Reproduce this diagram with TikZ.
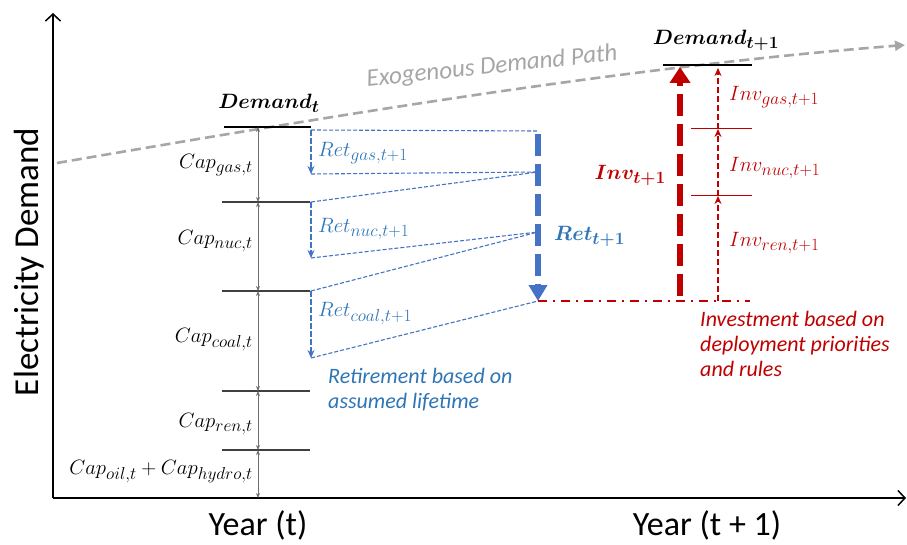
\documentclass[tikz,border=0pt]{standalone}
\usepackage{amsmath}
\usepackage{bm}
\usepackage{fontspec}
\setmainfont{Carlito}
\usetikzlibrary{arrows.meta}
\usetikzlibrary{positioning}
\DeclareMathSizes{21}{21}{16}{12}
\definecolor{retblue}{RGB}{68,114,196}
\definecolor{rettext}{RGB}{46,117,182}
\definecolor{invred}{RGB}{192,0,0}
\definecolor{pathgray}{RGB}{166,166,166}
\definecolor{capgray}{RGB}{110,110,110}
\tikzset{axis/.style = {line width=1.8pt, -{Straight Barb[length=7pt,width=15pt,line width=1.5pt]}}}
\tikzset{level/.style = {line width=1.3pt, black!75}}
\tikzset{demandline/.style = {line width=2.6pt}}
\tikzset{caparrow/.style = {{Stealth[length=5pt,width=4pt]}-{Stealth[length=5pt,width=4pt]}, capgray, line width=0.8pt}}
\tikzset{retthin/.style = {retblue, line width=1.1pt, dash pattern=on 4pt off 2pt}}
\tikzset{retarrow/.style = {retthin, line width=1.7pt, dash pattern=on 6pt off 2pt, -{Stealth[length=8pt,width=7pt]}}}
\tikzset{rettotal/.style = {retblue, line width=5.5pt, dash pattern=on 22pt off 8pt, -{Triangle[length=16pt,width=18pt]}}}
\tikzset{invtotal/.style = {invred, line width=6.5pt, dash pattern=on 22pt off 8pt, -{Triangle[length=16pt,width=20pt]}}}
\tikzset{invarrow/.style = {invred, line width=1.7pt, dash pattern=on 6pt off 3pt, -{Stealth[length=8pt,width=7pt]}}}
\tikzset{invlevel/.style = {invred, line width=1pt}}
\tikzset{mathlab/.style = {font=\fontsize{21}{24}\selectfont, inner sep=1pt}}
\tikzset{note/.style = {font=\fontsize{22}{25}\selectfont\itshape, align=left, inner sep=0pt}}

\begin{document}
\begin{tikzpicture}[x=1pt, y=-1pt]
    \useasboundingbox (0,0) rectangle (907,545);

    % axes
    \coordinate (origin) at (53,498);
    \draw [axis] (origin) -- (53,13);
    \draw [axis] (origin) -- (906,498);
    \node [rotate=90, font=\fontsize{35}{40}\selectfont] (ylab) at (29,262) {Electricity Demand};
    \node [font=\fontsize{34}{40}\selectfont] (yeart) at (258,525) {Year (t)};
    \node [font=\fontsize{34}{40}\selectfont] (yeartt) at (707,525) {Year (t + 1)};

    % exogenous demand path
    \draw [pathgray, line width=2.6pt, dash pattern=on 10pt off 5pt, -{Triangle[length=10pt,width=10pt]}]
        (57,163) .. controls (337,115) and (625,67) .. (905,45);
    \node [pathgray, rotate=6, font=\fontsize{25}{28}\selectfont\itshape] (exo) at (492,67) {Exogenous Demand Path};

    % capacity stack at t
    \coordinate (c0) at (258,127);
    \coordinate (c1) at (258,202);
    \coordinate (c2) at (258,291);
    \coordinate (c3) at (258,391);
    \coordinate (c4) at (258,450);
    \coordinate (c5) at (258,498);
    \draw [demandline] (224,127) -- (311,127);
    \foreach \y in {202,291,391,450}
        \draw [level] (222,\y) -- (310,\y);
    \draw [caparrow] (c0) -- (c1);
    \draw [caparrow] (c1) -- (c2);
    \draw [caparrow] (c2) -- (c3);
    \draw [caparrow] (c3) -- (c4);
    \draw [caparrow] (c4) -- (c5);
    \node [mathlab] (demt) at (269,103) {$\bm{Demand_t}$};
    \node [mathlab, anchor=east] (capgas) at (254,165) {$Cap_{gas,t}$};
    \node [mathlab, anchor=east] (capnuc) at (254,241) {$Cap_{nuc,t}$};
    \node [mathlab, anchor=east] (capcoal) at (254,340) {$Cap_{coal,t}$};
    \node [mathlab, anchor=east] (capren) at (254,424) {$Cap_{ren,t}$};
    \node [mathlab, anchor=east] (capoil) at (254,472) {$Cap_{oil,t}+Cap_{hydro,t}$};

    % retirements
    \coordinate (g0) at (311,130);
    \coordinate (g1) at (311,174);
    \coordinate (n0) at (311,202);
    \coordinate (n1) at (311,258);
    \coordinate (k0) at (311,291);
    \coordinate (k1) at (311,358);
    \coordinate (b0) at (538,131);
    \coordinate (b1) at (538,172);
    \coordinate (b2) at (538,232);
    \coordinate (b3) at (538,301);
    \draw [retarrow] (g0) -- (g1);
    \draw [retarrow] (n0) -- (n1);
    \draw [retarrow] (k0) -- (k1);
    \draw [retthin] (g0) -- (b0);
    \draw [retthin] (g1) -- (b1);
    \draw [retthin] (n0) -- (b1);
    \draw [retthin] (n1) -- (b2);
    \draw [retthin] (k0) -- (b2);
    \draw [retthin] (k1) -- (b3);
    \draw [rettotal] (538,134) -- (b3);
    \node [mathlab, rettext, anchor=west] (retgas) at (317,153) {$Ret_{gas,t+1}$};
    \node [mathlab, rettext, anchor=west] (retnuc) at (317,229) {$Ret_{nuc,t+1}$};
    \node [mathlab, rettext, anchor=west] (retcoal) at (317,314) {$Ret_{coal,t+1}$};
    \node [mathlab, rettext, anchor=west] (rettot) at (553,236) {$\bm{Ret_{t+1}}$};
    \node [note, rettext, anchor=north west] (retnote) at (328,368) {Retirement based on\\assumed lifetime};

    % investments
    \coordinate (d0) at (663,65);
    \coordinate (d1) at (752,65);
    \coordinate (i0) at (718,301);
    \coordinate (i1) at (718,196);
    \coordinate (i2) at (718,129);
    \coordinate (i3) at (718,68);
    \draw [invred, line width=1.8pt, dash pattern=on 9pt off 6pt on 2pt off 6pt] (b3) -- (750,301);
    \draw [invtotal] (680,296) -- (680,67);
    \draw [demandline] (d0) -- (d1);
    \draw [invlevel] (691,196) -- (752,196);
    \draw [invlevel] (691,129) -- (752,129);
    \draw [invarrow] (i0) -- (i1);
    \draw [invarrow] (i1) -- (i2);
    \draw [invarrow] (i2) -- (i3);
    \node [mathlab] (demtt) at (716,40) {$\bm{Demand_{t+1}}$};
    \node [mathlab, invred, anchor=east] (invtot) at (667,175) {$\bm{Inv_{t+1}}$};
    \node [mathlab, invred, anchor=west] (invgas) at (728,97) {$Inv_{gas,t+1}$};
    \node [mathlab, invred, anchor=west] (invnuc) at (728,168) {$Inv_{nuc,t+1}$};
    \node [mathlab, invred, anchor=west] (invren) at (728,243) {$Inv_{ren,t+1}$};
    \node [note, invred, anchor=north west] (invnote) at (700,311) {Investment based on\\deployment priorities\\and rules};
\end{tikzpicture}
\end{document}
